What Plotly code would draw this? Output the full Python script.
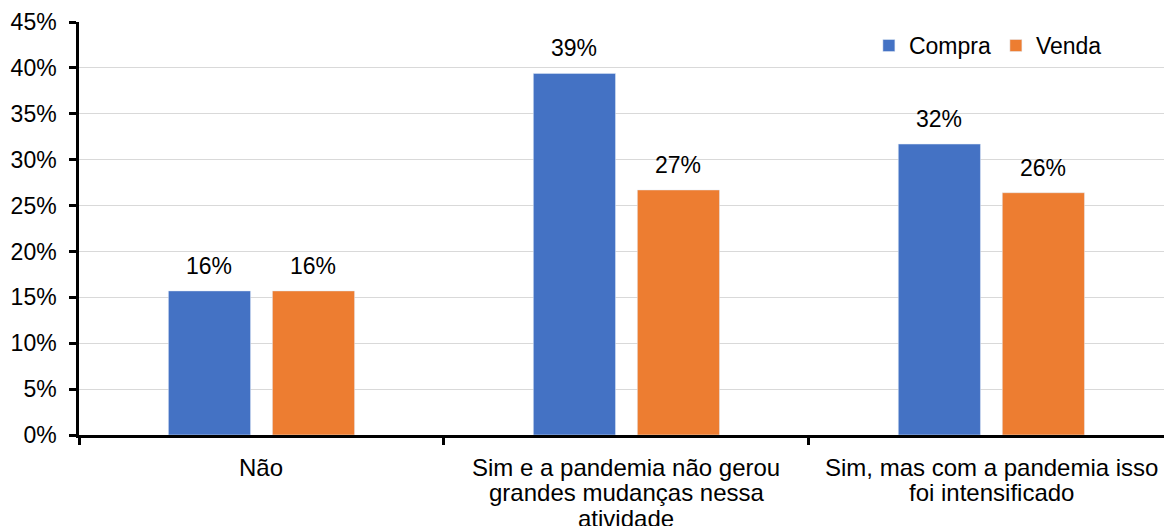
import plotly.graph_objects as go

categories = ["Não",
              "Sim e a pandemia não gerou<br>grandes mudanças nessa<br>atividade",
              "Sim, mas com a pandemia isso<br>foi intensificado"]
compra = [15.7, 39.4, 31.7]
venda = [15.7, 26.7, 26.4]
y_ticks = [0, 5, 10, 15, 20, 25, 30, 35, 40, 45]
y_labels = [f"{v}%" for v in y_ticks]

FS = 23
font = dict(family="Liberation Sans, Arial, sans-serif", size=FS, color="#000000")
xfont = dict(family="Liberation Sans, Arial, sans-serif", size=24, color="#000000")

fig = go.Figure()
fig.add_trace(go.Bar(name="Compra", x=categories, y=compra, marker_color="#4472C4"))
fig.add_trace(go.Bar(name="Venda", x=categories, y=venda, marker_color="#ED7D31"))

# data labels above bars (offset by half a bar slot within the group)
for vals, shift in ((compra, -52), (venda, 52)):
    for c, v in zip(categories, vals):
        fig.add_annotation(x=c, y=v, text=f"{v:.0f}%", showarrow=False,
                           xshift=shift, yshift=10, yanchor="bottom",
                           font=font, xref="x", yref="y")

# category labels, one line at a time for tighter (Excel-like) line spacing
for c in categories:
    for i, line in enumerate(c.split("<br>")):
        fig.add_annotation(x=c, y=0, xref="x", yref="y", text=line, showarrow=False,
                           yanchor="middle", yshift=-(32 + 25.5 * i), font=xfont)

fig.update_layout(
    width=1165, height=526,
    margin=dict(l=79, r=1, t=22, b=91),
    paper_bgcolor="white", plot_bgcolor="white",
    font=font,
    barmode="group", bargap=0.43, bargroupgap=0.21,
    showlegend=True,
    legend=dict(orientation="h", x=0.728, xanchor="left", y=0.995, yanchor="top",
                font=font, bgcolor="rgba(255,255,255,0)", itemwidth=30,
                tracegroupgap=0),
    xaxis=dict(type="category", range=[-0.5, 2.473], showline=True, linecolor="#000000",
               linewidth=2.5, ticks="outside", tickson="boundaries", ticklen=7,
               tickwidth=2.5, tickcolor="#000000", showgrid=False,
               showticklabels=False, automargin=False),
    yaxis=dict(range=[0, 45], tickmode="array", tickvals=y_ticks, ticktext=y_labels,
               showline=True, linecolor="#000000", linewidth=2.5, ticks="outside",
               ticklen=7, tickwidth=2.5, tickcolor="#000000", showgrid=True,
               gridcolor="#D9D9D9", gridwidth=1, tickfont=font, zeroline=False,
               ticklabelstandoff=8, automargin=False),
)

fig.write_html("out.html", config={"displayModeBar": False},
               post_script="document.body.style.margin='0';")
